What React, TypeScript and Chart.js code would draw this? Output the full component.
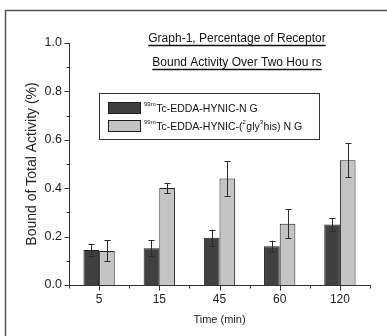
import React, { useEffect, useRef } from 'react';
import { Chart, registerables } from 'chart.js';
Chart.register(...registerables);

const categories = ['5', '15', '45', '60', '120'];
const ngValues = [0.145, 0.152, 0.195, 0.16, 0.25];
const ngErrors = [0.025, 0.034, 0.034, 0.023, 0.027];
const glyValues = [0.141, 0.401, 0.44, 0.253, 0.516];
const glyErrors = [0.043, 0.021, 0.071, 0.059, 0.071];
const yTickValues = [0, 0.2, 0.4, 0.6, 0.8, 1.0];
const titleLines = ['Graph-1, Percentage of Receptor', 'Bound Activity Over Two Hou rs'];
const legendNg = [{ t: '99m', sup: true }, { t: 'Tc-EDDA-HYNIC-N G' }];
const legendGly = [
  { t: '99m', sup: true },
  { t: 'Tc-EDDA-HYNIC-(' },
  { t: '2', sup: true },
  { t: 'gly' },
  { t: '3', sup: true },
  { t: 'his) N G' },
];
const xTitle = 'Time (min)';
const yTitle = 'Bound of Total Activity (%)';

const DARK = '#404040';
const LIGHT = '#c4c4c4';
const EDGE = '#1e1e1e';
const FONT = '"Liberation Sans", Arial, sans-serif';

const errors = [ngErrors, glyErrors];
const legendItems = [legendNg, legendGly];

const framePlugin = {
  id: 'frame',
  beforeDraw(chart: any) {
    const ctx = chart.ctx;
    ctx.save();
    ctx.fillStyle = '#fff';
    ctx.fillRect(0, 0, chart.width, chart.height);
    ctx.strokeStyle = '#555';
    ctx.lineWidth = 1.5;
    ctx.beginPath();
    ctx.moveTo(5.5, chart.height + 2);
    ctx.lineTo(5.5, 10.5);
    ctx.lineTo(chart.width + 2, 10.5);
    ctx.stroke();
    ctx.restore();
  },
};

const decorPlugin = {
  id: 'decor',
  afterDatasetsDraw(chart: any) {
    const ctx = chart.ctx;
    const ys = chart.scales.y;
    const xs = chart.scales.x;
    ctx.save();
    // error bars
    ctx.strokeStyle = '#2a2a2a';
    ctx.lineWidth = 1;
    chart.data.datasets.forEach((ds: any, i: number) => {
      const meta = chart.getDatasetMeta(i);
      meta.data.forEach((bar: any, j: number) => {
        const v = ds.data[j];
        const e = errors[i][j];
        const x = Math.round(bar.x) + 0.5;
        const yt = ys.getPixelForValue(v + e);
        const yb = ys.getPixelForValue(v - e);
        ctx.beginPath();
        ctx.moveTo(x, yt);
        ctx.lineTo(x, yb);
        ctx.moveTo(x - 3, Math.round(yt) + 0.5);
        ctx.lineTo(x + 3, Math.round(yt) + 0.5);
        ctx.moveTo(x - 3, Math.round(yb) + 0.5);
        ctx.lineTo(x + 3, Math.round(yb) + 0.5);
        ctx.stroke();
      });
    });
    // axis ticks
    ctx.strokeStyle = '#333';
    const ax = Math.round(xs.left) + 0.5;
    for (let k = 0; k <= 10; k++) {
      const y = Math.round(ys.getPixelForValue(k / 10)) + 0.5;
      const len = k % 2 === 0 ? 5 : 3;
      ctx.beginPath();
      ctx.moveTo(ax, y);
      ctx.lineTo(ax - len, y);
      ctx.stroke();
    }
    const ay = Math.round(ys.bottom) + 0.5;
    const n = categories.length;
    const w = (xs.right - xs.left) / n;
    for (let k = 0; k <= n; k++) {
      const x = Math.round(xs.left + k * w) + 0.5;
      ctx.beginPath();
      ctx.moveTo(x, ay);
      ctx.lineTo(x, ay + 3);
      ctx.stroke();
    }
    for (let k = 0; k < n; k++) {
      const x = Math.round(xs.getPixelForValue(k)) + 0.5;
      ctx.beginPath();
      ctx.moveTo(x, ay);
      ctx.lineTo(x, ay + 5);
      ctx.stroke();
    }
    ctx.restore();
  },
  afterDraw(chart: any) {
    const ctx = chart.ctx;
    ctx.save();
    // title
    ctx.fillStyle = '#111';
    ctx.strokeStyle = '#111';
    ctx.font = `12px ${FONT}`;
    ctx.textAlign = 'center';
    ctx.textBaseline = 'alphabetic';
    const cx = 237;
    const baselines = [42, 66];
    titleLines.forEach((line, i) => {
      ctx.fillText(line, cx, baselines[i]);
      const tw = ctx.measureText(line).width;
      ctx.lineWidth = 1.5;
      ctx.beginPath();
      ctx.moveTo(cx - tw / 2, baselines[i] + 3.5);
      ctx.lineTo(cx + tw / 2, baselines[i] + 3.5);
      ctx.stroke();
    });
    // legend box
    ctx.lineWidth = 1;
    ctx.strokeStyle = '#333';
    ctx.strokeRect(99.5, 93.5, 220, 46);
    const swY = [102, 120];
    const fills = [DARK, LIGHT];
    ctx.textAlign = 'left';
    legendItems.forEach((parts, i) => {
      ctx.fillStyle = fills[i];
      ctx.fillRect(108.5, swY[i] + 0.5, 32, 11);
      ctx.strokeStyle = EDGE;
      ctx.strokeRect(108.5, swY[i] + 0.5, 32, 11);
      let x = 144;
      const base = swY[i] + 10;
      ctx.fillStyle = '#111';
      parts.forEach((p: any) => {
        if (p.sup) {
          ctx.font = `6px ${FONT}`;
          ctx.fillText(p.t, x, base - 6);
        } else {
          ctx.font = `10.5px ${FONT}`;
          ctx.fillText(p.t, x, base);
        }
        x += ctx.measureText(p.t).width + (p.sup ? 0.5 : 0);
      });
    });
    ctx.restore();
  },
};

export default function App() {
  const ref = useRef<HTMLCanvasElement>(null);
  useEffect(() => {
    if (!ref.current) return;
    const chart = new Chart(ref.current, {
      type: 'bar',
      data: {
        labels: categories,
        datasets: [
          {
            label: '99mTc-EDDA-HYNIC-NG',
            data: ngValues,
            backgroundColor: DARK,
            borderColor: EDGE,
            borderWidth: 1,
            barPercentage: 1,
            categoryPercentage: 0.52,
          },
          {
            label: '99mTc-EDDA-HYNIC-(2gly3his)NG',
            data: glyValues,
            backgroundColor: LIGHT,
            borderColor: EDGE,
            borderWidth: 1,
            barPercentage: 1,
            categoryPercentage: 0.52,
          },
        ],
      },
      options: {
        responsive: false,
        animation: false,
        devicePixelRatio: 1,
        layout: { padding: { left: 0, top: 43, right: 17, bottom: 0 } },
        plugins: { legend: { display: false }, title: { display: false }, tooltip: { enabled: false } },
        scales: {
          x: {
            grid: { display: false, drawTicks: false },
            border: { display: true, color: '#333', width: 1 },
            ticks: { color: '#222', font: { family: FONT, size: 12 }, padding: 7, maxRotation: 0 },
            title: {
              display: true,
              text: xTitle,
              color: '#222',
              font: { family: FONT, size: 11 },
              padding: { top: 0, bottom: 9 },
            },
            afterFit(s: any) {
              s.height = 51;
            },
          },
          y: {
            min: 0,
            max: 1.0,
            afterBuildTicks(s: any) {
              s.ticks = yTickValues.map((v) => ({ value: v }));
            },
            grid: { display: false, drawTicks: false },
            border: { display: true, color: '#333', width: 1 },
            ticks: {
              color: '#222',
              font: { family: FONT, size: 12.5 },
              padding: 7,
              callback: (v: any) => Number(v).toFixed(1),
            },
            title: {
              display: true,
              text: yTitle,
              color: '#222',
              font: { family: FONT, size: 14 },
              padding: { top: 24, bottom: 0 },
            },
            afterFit(s: any) {
              s.width = 69;
            },
          },
        },
      },
      plugins: [framePlugin, decorPlugin],
    });
    return () => chart.destroy();
  }, []);
  return (
    <div style={{ position: 'fixed', left: 0, top: 0, width: 387, height: 336, background: '#fff' }}>
      <canvas ref={ref} width={387} height={336} style={{ display: 'block' }} />
    </div>
  );
}
